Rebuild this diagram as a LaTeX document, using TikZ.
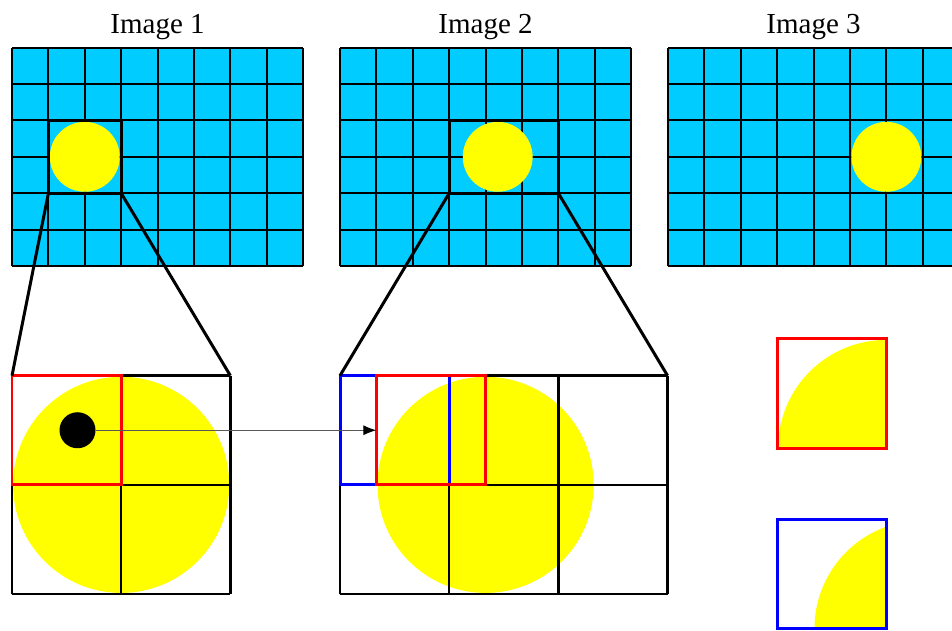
\documentclass[tikz,border=0pt]{standalone}
\usepackage{fontspec}
\setmainfont{Liberation Serif}
\usetikzlibrary{arrows.meta}

\begin{document}
\begin{tikzpicture}[x=0.02cm,y=0.02cm,>=Latex,
  gridline/.style={line width=1.1pt},
  bigline/.style={line width=1.4pt},
  zoomline/.style={line width=1.7pt},
  winline/.style={line width=1.7pt},
  title/.style={font=\fontsize{16.5}{20}\selectfont}]
\definecolor{pixel}{RGB}{0,204,255}
\definecolor{blob}{RGB}{255,255,0}
\definecolor{winA}{RGB}{255,0,0}
\definecolor{winB}{RGB}{0,0,255}
\useasboundingbox (0,0) rectangle (952,630);
\clip (0,0) rectangle (952,630);

% Top row: three frames of 8x6 pixels, the blob moving right.
\foreach \fx/\cx/\n in {12/2/1,340/4.333/2,668/6/3} {
  \begin{scope}[shift={(\fx,364)},x=0.728cm,y=0.728cm]
    \fill[pixel] (0,0) rectangle (8,6);
    \draw[gridline,step={(1,1)}] (0,0) grid (8,6);
    \fill[blob] (\cx,3) circle (0.96);
    \node[title] (title\n) at (4,6.57) {Image \n};
  \end{scope}
}

% Zoomed regions in the first two frames.
\begin{scope}[shift={(12,364)},x=0.728cm,y=0.728cm]
  \draw[zoomline] (1,2) rectangle (3,4);
  \coordinate (hiA-l) at (1,2);
  \coordinate (hiA-r) at (3,2);
\end{scope}
\begin{scope}[shift={(340,364)},x=0.728cm,y=0.728cm]
  \draw[zoomline] (3,2) rectangle (6,4);
  \coordinate (hiB-l) at (3,2);
  \coordinate (hiB-r) at (6,2);
\end{scope}

% Enlarged view of frame 1, with the window around the feature point.
\begin{scope}[shift={(12,36)},x=2.184cm,y=2.184cm]
  \fill[blob] (1,1) circle (0.99);
  \draw[bigline,step={(1,1)}] (0,0) grid (2,2);
  \draw[winA,winline] (0,1) rectangle (1,2);
  \coordinate (zoomA-l) at (0,2);
  \coordinate (zoomA-r) at (2,2);
  \node[circle,fill=black,inner sep=0pt,minimum size=0.72cm] (dot) at (0.6,1.5) {};
\end{scope}

% Enlarged view of frame 2: old window (blue) and shifted window (red).
\begin{scope}[shift={(340,36)},x=2.184cm,y=2.184cm]
  \fill[blob] (4/3,1) circle (0.99);
  \draw[bigline,step={(1,1)}] (0,0) grid (3,2);
  \draw[winB,winline] (0,1) rectangle (1,2);
  \draw[winA,winline] (1/3,1) rectangle (4/3,2);
  \coordinate (zoomB-l) at (0,2);
  \coordinate (zoomB-r) at (3,2);
  \coordinate (target) at (1/3,1.5);
\end{scope}

\draw[zoomline] (hiA-l) -- (zoomA-l);
\draw[zoomline] (hiA-r) -- (zoomA-r);
\draw[zoomline] (hiB-l) -- (zoomB-l);
\draw[zoomline] (hiB-r) -- (zoomB-r);
\draw[black!65,line width=0.6pt,-{Latex[black,length=0.26cm,width=0.2cm]}] (dot) -- (target);

% Window contents compared on the right.
\begin{scope}[shift={(777,182)},x=2.184cm,y=2.184cm]
  \begin{scope}
    \clip (0,0) rectangle (1,1);
    \fill[blob] (1,0) circle (0.99);
  \end{scope}
  \draw[winA,winline] (0,0) rectangle (1,1);
\end{scope}
\begin{scope}[shift={(777,1.5)},x=2.184cm,y=2.184cm]
  \begin{scope}
    \clip (0,0) rectangle (1,1);
    \fill[blob] (4/3,0) circle (0.99);
  \end{scope}
  \draw[winB,winline] (0,0) rectangle (1,1);
\end{scope}
\end{tikzpicture}
\end{document}
